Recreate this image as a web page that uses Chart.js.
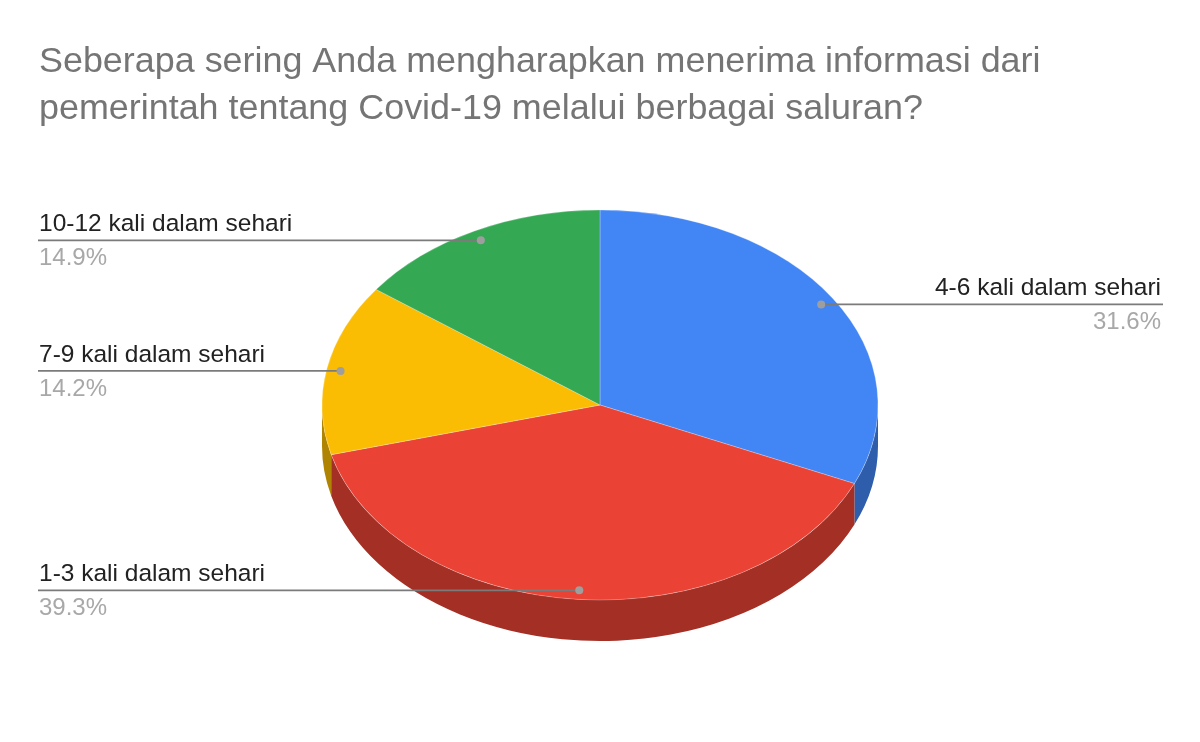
<!DOCTYPE html>
<html>
<head>
<meta charset="utf-8">
<title>Covid-19 saluran</title>
<script src="https://cdn.jsdelivr.net/npm/chart.js@4"></script>
<style>
  html, body { margin: 0; background: #fff; }
  canvas { display: block; filter: blur(0.5px); }
</style>
</head>
<body>
<canvas id="chart" width="1200" height="742"></canvas>
<script>
// Data
const categories = ['4-6 kali dalam sehari', '1-3 kali dalam sehari', '7-9 kali dalam sehari', '10-12 kali dalam sehari'];
const shares = [31.6, 39.3, 14.2, 14.9];
const titleLines = ['Seberapa sering Anda mengharapkan menerima informasi dari', 'pemerintah tentang Covid-19 melalui berbagai saluran?'];

// Colours
const topColors = ['#4285f4', '#ea4335', '#fbbc04', '#34a853'];
const wallColors = ['#2e5dab', '#a32f25', '#b08403', '#24763a'];

// Tilted pie settings
const SQUASH = 195 / 278;
const CENTER_Y = 405;
const DEPTH = 41;
const LEFT_X = 39;
const RIGHT_X = 1161;
const LABEL_FONT = '24.5px "Liberation Sans"';
const SHARE_FONT = '24px "Liberation Sans"';

const tiltedPie = {
    id: 'tiltedPie',
    beforeDatasetsDraw(chart) {
        const ctx = chart.ctx;
        const arcs = chart.getDatasetMeta(0).data;
        // side wall: only the front half of the rim shows
        arcs.forEach((arc, i) => {
            const from = Math.max(arc.startAngle, 0);
            const to = Math.min(arc.endAngle, Math.PI);
            if (from >= to) return;
            const rx = arc.outerRadius;
            const ry = rx * SQUASH;
            ctx.fillStyle = wallColors[i];
            ctx.beginPath();
            ctx.ellipse(arc.x, CENTER_Y, rx, ry, 0, from, to);
            ctx.ellipse(arc.x, CENTER_Y + DEPTH, rx, ry, 0, to, from, true);
            ctx.closePath();
            ctx.fill();
        });
        ctx.save();
        ctx.translate(0, CENTER_Y);
        ctx.scale(1, SQUASH);
        ctx.translate(0, -arcs[0].y);
    },
    afterDatasetsDraw(chart) {
        chart.ctx.restore();
    }
};

const leaderLabels = {
    id: 'leaderLabels',
    afterDraw(chart) {
        const ctx = chart.ctx;
        chart.getDatasetMeta(0).data.forEach((arc, i) => {
            const mid = (arc.startAngle + arc.endAngle) / 2;
            const dotX = arc.x + Math.cos(mid) * arc.outerRadius * 0.95;
            const dotY = CENTER_Y + 0.6 + Math.sin(mid) * arc.outerRadius * 0.95 * SQUASH;
            const onRight = dotX > arc.x && dotY < CENTER_Y;
            const textX = onRight ? RIGHT_X : LEFT_X;

            ctx.save();
            ctx.strokeStyle = '#7b7b7b';
            ctx.lineWidth = 1.8;
            ctx.beginPath();
            ctx.moveTo(onRight ? textX + 2 : textX - 1, dotY);
            ctx.lineTo(dotX, dotY);
            ctx.stroke();
            ctx.fillStyle = '#9e9e9e';
            ctx.beginPath();
            ctx.arc(dotX, dotY, 4, 0, Math.PI * 2);
            ctx.fill();

            ctx.textAlign = onRight ? 'right' : 'left';
            ctx.textBaseline = 'alphabetic';
            ctx.font = LABEL_FONT;
            ctx.fillStyle = '#222222';
            ctx.fillText(categories[i], textX, dotY - 9);
            ctx.font = SHARE_FONT;
            ctx.fillStyle = '#a8a8a8';
            ctx.fillText(shares[i].toFixed(1) + '%', textX, dotY + 25);
            ctx.restore();
        });
    }
};

new Chart(document.getElementById('chart'), {
    type: 'pie',
    data: {
        labels: categories,
        datasets: [{
            data: shares,
            backgroundColor: topColors,
            borderColor: 'rgba(255,255,255,0.3)',
            borderWidth: 1
        }]
    },
    plugins: [tiltedPie, leaderLabels],
    options: {
        responsive: false,
        animation: false,
        events: [],
        layout: { padding: { left: 39, right: 39, bottom: 52 } },
        plugins: {
            legend: { display: false },
            tooltip: { enabled: false },
            title: {
                display: true,
                text: titleLines,
                align: 'start',
                color: '#757575',
                font: { family: 'Liberation Sans', size: 35.9, weight: 'normal', lineHeight: 47 / 35.9 },
                padding: { top: 39, bottom: 0 }
            }
        }
    }
});
</script>
</body>
</html>
